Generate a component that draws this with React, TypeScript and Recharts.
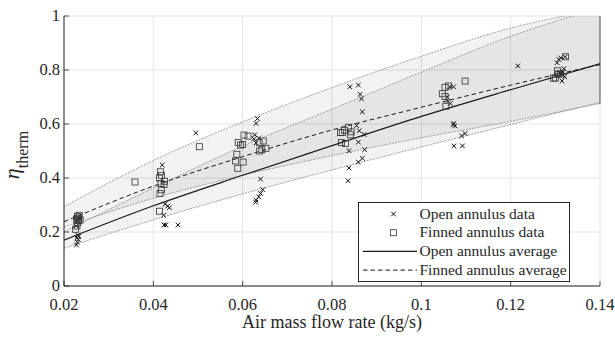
import React from 'react';
import {
  ComposedChart,
  XAxis,
  YAxis,
  CartesianGrid,
  Area,
  Line,
  Scatter,
  Legend,
  Label,
  ReferenceLine,
} from 'recharts';

// ---------- data ----------
const flowRates = [0.02, 0.04, 0.06, 0.08, 0.1, 0.12, 0.14];
const xTickLabels = ['0.02', '0.04', '0.06', '0.08', '0.1', '0.12', '0.14'];
const yTicks = [0, 0.2, 0.4, 0.6, 0.8, 1];
const yTickLabels = ['0', '0.2', '0.4', '0.6', '0.8', '1'];

const openAverage = [0.17, 0.297, 0.41, 0.52, 0.628, 0.727, 0.823];
const finnedAverage = [0.238, 0.37, 0.479, 0.578, 0.662, 0.744, 0.82];
const openBandLow = [0.14, 0.245, 0.341, 0.43, 0.515, 0.598, 0.68];
const openBandHigh = [0.201, 0.363, 0.518, 0.655, 0.792, 0.925, 1.03];
const finnedBandLow = [0.218, 0.325, 0.41, 0.483, 0.549, 0.61, 0.676];
const finnedBandHigh = [0.294, 0.465, 0.608, 0.735, 0.851, 0.955, 1.025];

const openData: [number, number][] = [
  [0.0228, 0.152], [0.023, 0.162], [0.0232, 0.172], [0.0229, 0.178], [0.0233, 0.183],
  [0.0231, 0.188], [0.0227, 0.222], [0.023, 0.24], [0.0233, 0.252],
  [0.042, 0.448], [0.0426, 0.303], [0.0432, 0.296], [0.0436, 0.29], [0.0423, 0.262],
  [0.0424, 0.226], [0.0428, 0.226], [0.0455, 0.226],
  [0.0495, 0.567],
  [0.0633, 0.62], [0.063, 0.602], [0.0627, 0.56], [0.0625, 0.545], [0.063, 0.53],
  [0.0636, 0.548], [0.064, 0.396], [0.0645, 0.357], [0.064, 0.343], [0.0636, 0.33],
  [0.063, 0.318], [0.0629, 0.31],
  [0.084, 0.738], [0.0859, 0.744], [0.0863, 0.71], [0.0866, 0.693], [0.0868, 0.645],
  [0.0855, 0.594], [0.0861, 0.575], [0.0872, 0.561], [0.0859, 0.533], [0.0838, 0.501],
  [0.0873, 0.505], [0.0868, 0.473], [0.0859, 0.459], [0.0838, 0.437], [0.0836, 0.39],
  [0.1064, 0.738], [0.1072, 0.738], [0.1058, 0.7], [0.106, 0.684], [0.1065, 0.676],
  [0.1073, 0.602], [0.1075, 0.593], [0.1071, 0.598], [0.109, 0.556], [0.1098, 0.565],
  [0.1073, 0.519], [0.1092, 0.519],
  [0.1216, 0.815],
  [0.1304, 0.827], [0.1308, 0.839], [0.1312, 0.845], [0.1322, 0.849], [0.1319, 0.805],
  [0.1321, 0.775], [0.1315, 0.759], [0.1309, 0.79], [0.1313, 0.787], [0.1317, 0.793],
];

const finnedData: [number, number][] = [
  [0.0226, 0.21], [0.0229, 0.222], [0.0231, 0.235], [0.0233, 0.242], [0.0228, 0.248],
  [0.0232, 0.252], [0.023, 0.258], [0.0234, 0.262], [0.0236, 0.245],
  [0.0359, 0.385],
  [0.0416, 0.423], [0.0418, 0.41], [0.0414, 0.4], [0.0417, 0.38], [0.0425, 0.388],
  [0.0424, 0.376], [0.0415, 0.343], [0.0418, 0.356], [0.0414, 0.277],
  [0.0503, 0.516],
  [0.0603, 0.559], [0.0612, 0.555], [0.059, 0.532], [0.0595, 0.522], [0.06, 0.524],
  [0.0587, 0.488], [0.0584, 0.463], [0.0601, 0.459], [0.0589, 0.436], [0.0637, 0.531],
  [0.0646, 0.537], [0.0638, 0.5], [0.0652, 0.51], [0.0643, 0.505],
  [0.0819, 0.568], [0.0823, 0.568], [0.0828, 0.577], [0.0837, 0.588], [0.0843, 0.571],
  [0.0841, 0.56], [0.0821, 0.531], [0.083, 0.528],
  [0.1053, 0.736], [0.1061, 0.741], [0.1047, 0.712], [0.1053, 0.702], [0.1055, 0.666],
  [0.1098, 0.759],
  [0.1323, 0.849], [0.1305, 0.797], [0.1296, 0.77], [0.13, 0.77], [0.1307, 0.784],
  [0.1311, 0.786],
];

// ---------- derived tables ----------
const lineTable = flowRates.map((x, i) => ({
  x,
  openAvg: openAverage[i],
  finnedAvg: finnedAverage[i],
  openLow: openBandLow[i],
  openHigh: openBandHigh[i],
  finnedLow: finnedBandLow[i],
  finnedHigh: finnedBandHigh[i],
  openBand: [openBandLow[i], openBandHigh[i]],
  finnedBand: [finnedBandLow[i], finnedBandHigh[i]],
}));
const openPoints = openData.map(([x, y]) => ({ x, y }));
const finnedPoints = finnedData.map(([x, y]) => ({ x, y }));
const rightEdgeLow = Math.min(
  openBandLow[openBandLow.length - 1],
  finnedBandLow[finnedBandLow.length - 1]
);

const FONT = '"Liberation Serif", "Times New Roman", Times, serif';
const AXIS = '#262626';
const BOUND = '#8c8c8c';
const textStyle = { fontFamily: FONT };

// ---------- custom pieces ----------
const XTick = (props: any) => {
  const { x, y, payload } = props;
  const idx = flowRates.indexOf(payload.value);
  return (
    <g>
      <line x1={x} y1={y} x2={x} y2={y - 5} stroke={AXIS} strokeWidth={0.8} />
      <text x={x} y={y + 23.5} textAnchor="middle" style={textStyle} fontSize={16.5} fill="#262626">
        {idx >= 0 ? xTickLabels[idx] : String(payload.value)}
      </text>
    </g>
  );
};

const YTick = (props: any) => {
  const { x, y, payload } = props;
  const idx = yTicks.indexOf(payload.value);
  return (
    <g>
      <line x1={x} y1={y} x2={x + 5} y2={y} stroke={AXIS} strokeWidth={0.8} />
      <text x={x - 4} y={y + 5} textAnchor="end" style={textStyle} fontSize={16.5} fill="#262626">
        {idx >= 0 ? yTickLabels[idx] : String(payload.value)}
      </text>
    </g>
  );
};

const YTitle = () => (
  <text transform="translate(19,155) rotate(-90)" textAnchor="middle" style={textStyle} fill="#262626">
    <tspan fontStyle="italic" fontSize={22}>η</tspan>
    <tspan fontSize={16} dy={9}>therm</tspan>
  </text>
);

const XTitle = () => (
  <text x={332} y={328} textAnchor="middle" style={textStyle} fontSize={18} fill="#262626">
    Air mass flow rate (kg/s)
  </text>
);

const CrossShape = (props: any) => {
  const { cx, cy } = props;
  const r = 2.3;
  return (
    <g stroke="#111" strokeWidth={1}>
      <line x1={cx - r} y1={cy - r} x2={cx + r} y2={cy + r} />
      <line x1={cx - r} y1={cy + r} x2={cx + r} y2={cy - r} />
    </g>
  );
};

const SquareShape = (props: any) => {
  const { cx, cy } = props;
  const h = 3;
  return (
    <rect x={cx - h} y={cy - h} width={2 * h} height={2 * h} fill="none" stroke="#333" strokeWidth={0.8} />
  );
};

const legendItems = [
  { label: 'Open annulus data', kind: 'cross' },
  { label: 'Finned annulus data', kind: 'square' },
  { label: 'Open annulus average', kind: 'solid' },
  { label: 'Finned annulus average', kind: 'dashed' },
];

const LegendBox = () => (
  <svg width={212} height={80} style={{ display: 'block' }}>
    <rect x={0.5} y={0.5} width={211} height={79} fill="#fff" stroke={AXIS} strokeWidth={1} />
    {legendItems.map((it, i) => {
      const cy = 12 + i * 18.7;
      let mark: React.ReactNode = null;
      if (it.kind === 'cross') mark = <CrossShape cx={35.5} cy={cy} />;
      else if (it.kind === 'square') mark = <SquareShape cx={35.5} cy={cy} />;
      else
        mark = (
          <line
            x1={5}
            x2={59}
            y1={cy}
            y2={cy}
            stroke="#1a1a1a"
            strokeWidth={it.kind === 'solid' ? 1.2 : 1}
            strokeDasharray={it.kind === 'dashed' ? '4.5 3' : undefined}
          />
        );
      return (
        <g key={it.label}>
          {mark}
          <text x={61.5} y={cy + 4.5} style={textStyle} fontSize={15.5} fill="#262626">
            {it.label}
          </text>
        </g>
      );
    })}
  </svg>
);

export default function App() {
  return (
    <div style={{ position: 'absolute', left: 0, top: 0, width: 615, height: 337, background: '#fff' }}>
      <ComposedChart
        width={615}
        height={337}
        data={lineTable}
        margin={{ top: 16, right: 15, bottom: 0, left: 0 }}
      >
        <CartesianGrid stroke="#e4e4e4" strokeWidth={1} />
        <XAxis
          dataKey="x"
          type="number"
          domain={[0.02, 0.14]}
          ticks={flowRates}
          allowDataOverflow
          height={51}
          tickSize={0}
          tickMargin={0}
          tickLine={false}
          axisLine={{ stroke: AXIS, strokeWidth: 1 }}
          tick={<XTick />}
          interval={0}
        >
          <Label content={<XTitle />} />
        </XAxis>
        <YAxis
          type="number"
          domain={[0, 1]}
          ticks={yTicks}
          allowDataOverflow
          width={64}
          tickSize={0}
          tickMargin={0}
          tickLine={false}
          axisLine={{ stroke: AXIS, strokeWidth: 1 }}
          tick={<YTick />}
          interval={0}
        >
          <Label content={<YTitle />} />
        </YAxis>

        <Area
          type="monotone"
          dataKey="openBand"
          fill="#000"
          fillOpacity={0.05}
          stroke="none"
          isAnimationActive={false}
          activeDot={false}
        />
        <Area
          type="monotone"
          dataKey="finnedBand"
          fill="#000"
          fillOpacity={0.05}
          stroke="none"
          isAnimationActive={false}
          activeDot={false}
        />
        <Line type="monotone" dataKey="openLow" stroke={BOUND} strokeWidth={0.8} strokeDasharray="2 1" dot={false} activeDot={false} isAnimationActive={false} />
        <Line type="monotone" dataKey="openHigh" stroke={BOUND} strokeWidth={0.8} strokeDasharray="2 1" dot={false} activeDot={false} isAnimationActive={false} />
        <Line type="monotone" dataKey="finnedLow" stroke={BOUND} strokeWidth={0.8} strokeDasharray="2 1" dot={false} activeDot={false} isAnimationActive={false} />
        <Line type="monotone" dataKey="finnedHigh" stroke={BOUND} strokeWidth={0.8} strokeDasharray="2 1" dot={false} activeDot={false} isAnimationActive={false} />
        <ReferenceLine
          segment={[{ x: 0.14, y: rightEdgeLow }, { x: 0.14, y: 1 }]}
          stroke="#555"
          strokeWidth={1}
        />
        <Line type="monotone" dataKey="openAvg" stroke="#1a1a1a" strokeWidth={1.2} dot={false} activeDot={false} isAnimationActive={false} />
        <Line type="monotone" dataKey="finnedAvg" stroke="#1a1a1a" strokeWidth={1} strokeDasharray="4.5 3" dot={false} activeDot={false} isAnimationActive={false} />

        <Scatter data={openPoints} dataKey="y" shape={<CrossShape />} isAnimationActive={false} />
        <Scatter data={finnedPoints} dataKey="y" shape={<SquareShape />} isAnimationActive={false} />

        <Legend
          layout="horizontal"
          verticalAlign="middle"
          align="center"
          content={<LegendBox />}
          wrapperStyle={{ left: 358, top: 202, width: 212, height: 80 }}
        />
      </ComposedChart>
    </div>
  );
}
